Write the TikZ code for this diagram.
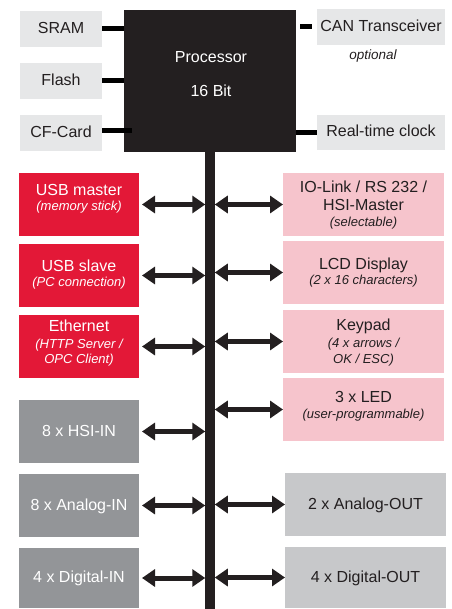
\documentclass[tikz,border=0pt]{standalone}
\usepackage{fontspec}
\setmainfont{Liberation Sans}
\usetikzlibrary{arrows.meta}
\definecolor{procblk}{HTML}{231F20}
\definecolor{topgray}{HTML}{E6E7E8}
\definecolor{ifred}{HTML}{E31837}
\definecolor{ifpink}{HTML}{F6C4CC}
\definecolor{ingray}{HTML}{939598}
\definecolor{outgray}{HTML}{C7C8CA}
\definecolor{txtdark}{HTML}{231F20}
\newcommand{\subf}{\fontsize{13}{15}\selectfont\itshape}
\begin{document}
\begin{tikzpicture}[x=1pt,y=-1pt,
  box/.style={rectangle, inner sep=0pt, outer sep=0pt, align=center,
    font=\fontsize{16}{16}\selectfont},
  one/.style={text height=9pt, text depth=0pt},
  th/.style={text height=#1, text depth=0pt},
  mem/.style={box, one, fill=topgray, text=txtdark},
  redbox/.style={box, fill=ifred, text=white, minimum width=120pt, minimum height=63pt},
  pinkbox/.style={box, fill=ifpink, text=txtdark, minimum width=161pt, minimum height=63pt},
  inbox/.style={box, one, fill=ingray, text=white, minimum width=120pt},
  outbox/.style={box, one, fill=outgray, text=txtdark, minimum width=161pt},
  ptext/.style={inner sep=0pt, text=white, font=\fontsize{16}{16}\selectfont},
  link/.style={draw=black, line width=5pt},
  dbl/.style={draw=procblk, line width=5pt, >={Triangle[length=13pt,width=17pt]}, <->},
  bus/.style={draw=procblk, line width=9.5pt}
]
\useasboundingbox (0,0) rectangle (451,609);

% memory / peripheral boxes at top
\node[mem, minimum width=82pt, minimum height=36pt] (sram) at (61,29) {SRAM};
\node[mem, minimum width=82pt, minimum height=36pt] (flash) at (61,81) {Flash};
\node[mem, minimum width=82pt, minimum height=36pt] (cf) at (61,133) {CF-Card};
\node[mem, minimum width=128pt, minimum height=36pt] (can) at (381,27) {CAN Transceiver};
\node[mem, minimum width=128pt, minimum height=35pt] (rtc) at (381,132.5) {Real-time clock};
\node[inner sep=0pt, anchor=base, text=txtdark, font=\fontsize{13.5}{15}\selectfont\itshape] (opt) at (373,60) {optional};

% processor
\node[rectangle, fill=procblk, inner sep=0pt, minimum width=172pt, minimum height=142pt] (proc) at (210,81) {};
\node[ptext, anchor=base] (pt1) at (211,63) {Processor};
\node[ptext, anchor=base] (pt2) at (211,97) {16 Bit};

% bus
\coordinate (busbot) at (210,609);
\coordinate (busL) at (205.25,0);
\coordinate (busR) at (214.75,0);
\draw[bus] (proc.south) -- (busbot);

% links to processor
\draw[link] (sram.east) -- (sram.east -| proc.west);
\draw[link] (flash.east) -- (flash.east -| proc.west);
\draw[link, shorten >=-8pt] ([yshift=2.5pt]cf.east) -- ([yshift=2.5pt]cf.east -| proc.west);
\draw[link, shorten <=4pt, shorten >=5pt] (can.west -| proc.east) -- (can.west);
\draw[link] (rtc.west -| proc.east) -- (rtc.west);

% left interface boxes
\node[redbox, th=13pt] (usbm) at (79,204.5) {USB master\\[-1pt]{\subf (memory stick)}};
\node[redbox, th=22.4pt] (usbs) at (79,275.5) {USB slave\\[-0.5pt]{\subf (PC connection)}};
\node[redbox, th=33.6pt] (eth) at (79,346.5) {Ethernet\\[0.5pt]{\subf (HTTP Server /}\\[-1pt]{\subf OPC Client)}};
\node[inbox, minimum height=63pt] (hsi) at (79,431.5) {8 x HSI-IN};
\node[inbox, minimum height=63pt] (ain) at (79,505.5) {8 x Analog-IN};
\node[inbox, minimum height=60pt] (din) at (79,578) {4 x Digital-IN};

% right interface boxes
\node[pinkbox, th=45pt] (io) at (363.5,204.5) {IO-Link / RS 232 /\\[2pt]HSI-Master\\{\subf (selectable)}};
\node[pinkbox, th=23pt] (lcd) at (363.5,272.5) {LCD Display\\[-1.3pt]{\subf (2 x 16 characters)}};
\node[pinkbox, th=43.6pt] (key) at (363.5,341.5) {Keypad\\[1pt]{\subf (4 x arrows /}\\[-0.4pt]{\subf OK / ESC)}};
\node[pinkbox, th=17.6pt] (led) at (363.5,409.5) {3 x LED\\[-0.4pt]{\subf (user-programmable)}};
\node[outbox, minimum height=63pt] (aout) at (365.5,504.5) {2 x Analog-OUT};
\node[outbox, minimum height=61pt] (dout) at (365.5,577.5) {4 x Digital-OUT};

% arrows left
\foreach \n in {usbm,usbs,eth,hsi,ain,din}
  \draw[dbl, shorten <=3pt] (\n.east) -- (\n.east -| busL);
% arrows right
\foreach \n in {io,lcd,key,led,aout,dout}
  \draw[dbl] (\n.west -| busR) -- (\n.west);
\end{tikzpicture}
\end{document}
